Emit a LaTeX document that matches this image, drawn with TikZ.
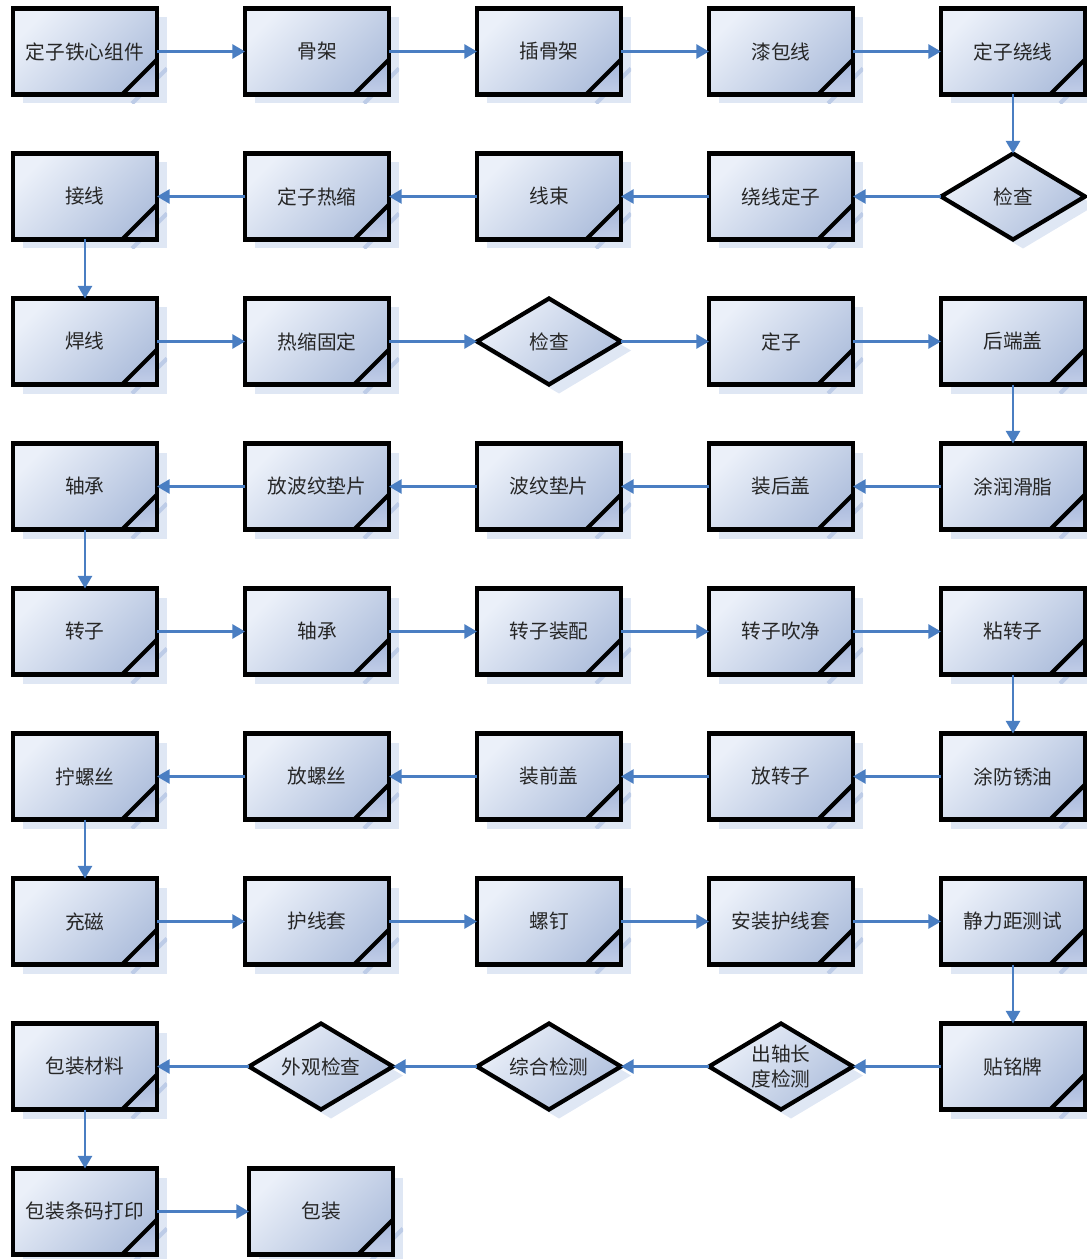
\documentclass[tikz,border=0pt]{standalone}
\usepackage{fontspec}
\newfontfamily\cjk{Noto Sans CJK SC}
\usetikzlibrary{positioning, arrows.meta, shapes.geometric, shadows}
\definecolor{boxlight}{HTML}{EBF0F9}
\definecolor{boxdark}{HTML}{B0C0DD}
\definecolor{foldlight}{HTML}{C2CEE8}
\definecolor{folddark}{HTML}{7890C4}
\definecolor{shadowblue}{HTML}{DFE7F4}
\definecolor{stripeblue}{HTML}{BDCCE7}
\definecolor{flowblue}{HTML}{4A7EC2}
\tikzset{
  base/.style={
    draw, line width=3pt, text=black!85,
    inner sep=0pt, outer sep=0pt,
    minimum width=3.6cm, minimum height=2.15cm,
    top color=boxlight, bottom color=boxdark, shading angle=45,
    font=\cjk\fontsize{14}{18}\selectfont, align=center,
  },
  stepbox/.style={ % process step, folded lower right corner
    base, rectangle,
    drop shadow={shadow xshift=0.25cm, shadow yshift=-0.225cm,
      fill=shadowblue, opacity=1,
      path picture={\draw[stripeblue, line width=3pt]
        ([xshift=-0.875cm]path picture bounding box.south east) --
        ([yshift=0.875cm]path picture bounding box.south east);}},
    path picture={
      \shade[top color=folddark, bottom color=foldlight]
        ([xshift=-0.875cm]path picture bounding box.south east) --
        ([yshift=0.875cm]path picture bounding box.south east) --
        (path picture bounding box.south east) -- cycle;
      \draw[line width=3pt]
        ([xshift=-0.875cm]path picture bounding box.south east) --
        ([yshift=0.875cm]path picture bounding box.south east);
    },
  },
  check/.style={ % inspection
    base, diamond, aspect=1.67,
    drop shadow={shadow xshift=0.25cm, shadow yshift=-0.225cm,
      fill=shadowblue, opacity=1},
  },
  flow/.style={ % connection between steps
    -{Triangle[length=9pt, width=10pt]},
    flowblue, line width=1.8pt,
  },
}

\begin{document}
\begin{tikzpicture}[node distance=1.475cm and 2.2cm]
    \useasboundingbox (-2.125,1.2875) rectangle (25.05,-30.1875);
		% row 1
		\node[stepbox] (p11) {定子铁心组件};
		\node[stepbox, right=of p11] (p12) {骨架};
		\node[stepbox, right=of p12] (p13) {插骨架};
		\node[stepbox, right=of p13] (p14) {漆包线};
		\node[stepbox, right=of p14] (p15) {定子绕线};
		\draw[flow] (p11) -- (p12);
		\draw[flow] (p12) -- (p13);
		\draw[flow] (p13) -- (p14);
		\draw[flow] (p14) -- (p15);
		% row 2
		\node[check, below=of p15] (p25) {检查};
		\node[stepbox, left=of p25] (p24) {绕线定子};
		\node[stepbox, left=of p24] (p23) {线束};
		\node[stepbox, left=of p23] (p22) {定子热缩};
		\node[stepbox, left=of p22] (p21) {接线};
		\draw[flow] (p15) -- (p25);
		\draw[flow] (p25) -- (p24);
		\draw[flow] (p24) -- (p23);
		\draw[flow] (p23) -- (p22);
		\draw[flow] (p22) -- (p21);
		% row 3
		\node[stepbox, below=of p21] (p31) {焊线};
		\node[stepbox, right=of p31] (p32) {热缩固定};
		\node[check, right=of p32] (p33) {检查};
		\node[stepbox, right=of p33] (p34) {定子};
		\node[stepbox, right=of p34] (p35) {后端盖};
		\draw[flow] (p21) -- (p31);
		\draw[flow] (p31) -- (p32);
		\draw[flow] (p32) -- (p33);
		\draw[flow] (p33) -- (p34);
		\draw[flow] (p34) -- (p35);
		% row 4
		\node[stepbox, below=of p35] (p45) {涂润滑脂};
		\node[stepbox, left=of p45] (p44) {装后盖};
		\node[stepbox, left=of p44] (p43) {波纹垫片};
		\node[stepbox, left=of p43] (p42) {放波纹垫片};
		\node[stepbox, left=of p42] (p41) {轴承};
		\draw[flow] (p35) -- (p45);
		\draw[flow] (p45) -- (p44);
		\draw[flow] (p44) -- (p43);
		\draw[flow] (p43) -- (p42);
		\draw[flow] (p42) -- (p41);
		% row 5
		\node[stepbox, below=of p41] (p51) {转子};
		\node[stepbox, right=of p51] (p52) {轴承};
		\node[stepbox, right=of p52] (p53) {转子装配};
		\node[stepbox, right=of p53] (p54) {转子吹净};
		\node[stepbox, right=of p54] (p55) {粘转子};
		\draw[flow] (p41) -- (p51);
		\draw[flow] (p51) -- (p52);
		\draw[flow] (p52) -- (p53);
		\draw[flow] (p53) -- (p54);
		\draw[flow] (p54) -- (p55);
		% row 6
		\node[stepbox, below=of p55] (p65) {涂防锈油};
		\node[stepbox, left=of p65] (p64) {放转子};
		\node[stepbox, left=of p64] (p63) {装前盖};
		\node[stepbox, left=of p63] (p62) {放螺丝};
		\node[stepbox, left=of p62] (p61) {拧螺丝};
		\draw[flow] (p55) -- (p65);
		\draw[flow] (p65) -- (p64);
		\draw[flow] (p64) -- (p63);
		\draw[flow] (p63) -- (p62);
		\draw[flow] (p62) -- (p61);
		% row 7
		\node[stepbox, below=of p61] (p71) {充磁};
		\node[stepbox, right=of p71] (p72) {护线套};
		\node[stepbox, right=of p72] (p73) {螺钉};
		\node[stepbox, right=of p73] (p74) {安装护线套};
		\node[stepbox, right=of p74] (p75) {静力距测试};
		\draw[flow] (p61) -- (p71);
		\draw[flow] (p71) -- (p72);
		\draw[flow] (p72) -- (p73);
		\draw[flow] (p73) -- (p74);
		\draw[flow] (p74) -- (p75);
		% row 8
		\node[stepbox, below=of p75] (p85) {贴铭牌};
		\node[check, left=of p85] (p84) {出轴长\\度检测};
		\node[check, left=of p84] (p83) {综合检测};
		\node[check, left=2.1cm of p83] (p82) {外观检查};
		\node[stepbox, below=of p71] (p81) {包装材料};
		\draw[flow] (p75) -- (p85);
		\draw[flow] (p85) -- (p84);
		\draw[flow] (p84) -- (p83);
		\draw[flow] (p83) -- (p82);
		\draw[flow] (p82) -- (p81);
		% row 9
		\node[stepbox, below=of p81] (p91) {包装条码打印};
		\node[stepbox, right=2.3cm of p91] (p92) {包装};
		\draw[flow] (p81) -- (p91);
		\draw[flow] (p91) -- (p92);
	\end{tikzpicture}
\end{document}
